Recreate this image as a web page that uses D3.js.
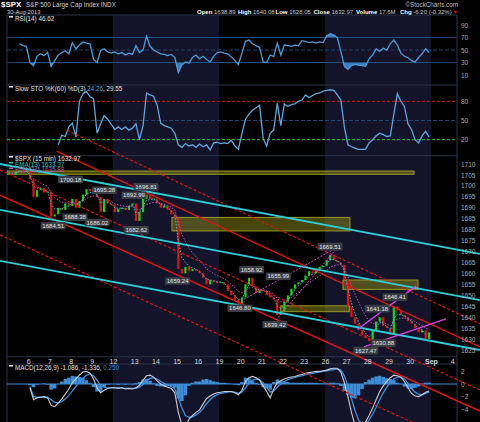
<!DOCTYPE html>
<html>
<head>
<meta charset="utf-8">
<script src="https://cdn.jsdelivr.net/npm/d3@7"></script>
<style>
  body { margin: 0; background: #000; }
  svg { display: block; font-family: "Liberation Sans", Arial, sans-serif; }
</style>
</head>
<body>
<div id="chart"></div>
<script>
var width = 480, height = 422,
    left = 7, right = 457;

// panel edges
var rsiTop = 15, rsiBot = 85, stoBot = 155.7, pxBot = 356.7, macdTop = 364;

// 15 min bars thinned to 6 samples a day
var perDay = 6;
var days = ['5', '6', '7', '8', '9', '12', '13', '14', '15', '16', '19', '20', '21', '22', '23', '26', '27', '28', '29', '30', 'Sep', '4'];
var shadedWeeks = [[5, 10], [15, 20]];

var closes = [
  1706, 1705, 1706.5, 1707, 1706.5, 1707,
  1703, 1695, 1698, 1699, 1697, 1697.4,
  1686, 1687, 1690, 1689, 1692, 1690.9,
  1694, 1690, 1693, 1696, 1698.5, 1697.5,
  1697, 1695, 1688, 1694, 1692, 1691.4,
  1688, 1689.5, 1690, 1689, 1691, 1692,
  1684, 1688, 1694, 1696, 1694, 1694.2,
  1692, 1690, 1691, 1689, 1687, 1685.4,
  1662, 1660, 1663, 1661, 1662, 1661.3,
  1660, 1658, 1655, 1657, 1656, 1655.8,
  1656, 1655, 1652, 1650, 1648, 1646.1,
  1649, 1655, 1658, 1654, 1651, 1652.4,
  1652, 1650, 1649, 1648, 1641, 1642.8,
  1647, 1650, 1653, 1655, 1656, 1657,
  1659, 1661, 1660, 1662, 1663, 1663.5,
  1666, 1668.5, 1666, 1665, 1664, 1657,
  1645, 1640, 1637, 1634, 1632, 1630.5,
  1629, 1634, 1638, 1640, 1636, 1635,
  1632, 1645, 1643, 1641, 1640, 1638.2,
  1637, 1635, 1633, 1634, 1630, 1633
];

var rsi = [null, null, null, 60, 57, 56, 30, 25, 40, 44,
  41, 46, 24, 33, 42, 46, 49, 44, 62, 52,
  58, 63, 61, 60, 35, 30, 49, 52, 47, 45,
  47, 44, 46, 42, 45, 43, 57, 46, 50, 72,
  56, 50, 47, 44, 43, 41, 43, 38, 14, 26,
  31, 29, 38, 42, 36, 40, 35, 31, 40, 46,
  47, 45, 44, 39, 33, 27, 45, 64, 66, 60,
  57, 54, 31, 30, 42, 40, 61, 42, 58, 57,
  56, 58, 57, 65, 64, 62, 63, 61, 63, 62,
  73, 76, 74, 70, 48, 24, 19, 25, 27, 26,
  25, 24, 36, 42, 52, 48, 53, 50, 60, 66,
  58, 45, 40, 38, 33, 31, 38, 44, 52, 46];

var stoK = [null, null, null, null, null, null, null, null, null, null,
  null, null, null, null, 12, 27, 25, 40, 46, 24,
  80, 92, 95, 87, 84, 30, 45, 58, 52, 44,
  36, 40, 36, 40, 35, 38, 45, 20, 42, 93,
  90, 88, 74, 46, 42, 40, 38, 30, 12, 8,
  14, 10, 12, 8, 13, 9, 12, 4, 15, 16,
  14, 15, 14, 19, 10, 5, 30, 52, 60, 66,
  70, 74, 22, 10, 30, 35, 77, 42, 76, 72,
  75, 76, 80, 82, 90, 86, 89, 92, 93, 96,
  97, 98, 97, 90, 82, 40, 12, 9, 7, 5,
  5, 5, 15, 20, 26, 30, 28, 25, 26, 60,
  92, 80, 72, 45, 36, 20, 15, 26, 33, 24];

var macd = [null, null, null, null, null, null, -0.6, -2.5, -2.2, -2.1,
  -2.0, -2.2, -3.4, -3.6, -3.0, -2.4, -1.6, -0.8, 0.2, 0.8,
  1.4, 1.9, 2.0, 1.7, 0.8, -0.6, -1.4, -1.0, -0.7, -0.6,
  -0.6, -0.7, -0.6, -0.8, -0.7, -0.8, -0.6, -0.2, 0.6, 1.3,
  1.4, 1.1, 0.5, 0.0, -0.3, -0.5, -0.7, -1.4, -4.5, -6.5,
  -6.8, -5.6, -5.0, -4.5, -4.1, -3.2, -2.3, -1.9, -1.6, -1.4,
  -1.3, -1.2, -1.2, -1.2, -1.4, -1.7, -1.0, 0.4, 1.0, 1.2,
  1.0, 0.6, -0.3, -1.2, -2.2, -0.8, 0.2, 0.5, 0.8, 1.0,
  1.1, 1.2, 1.4, 1.5, 1.7, 1.8, 1.9, 2.0, 2.0, 2.1,
  2.2, 2.4, 2.5, 2.5, 1.9, 0.2, -2.0, -4.5, -6.5, -7.5,
  -7.2, -6.0, -5.0, -3.8, -2.5, -1.2, -0.3, 0.4, 1.0, 1.4,
  1.3, 1.1, 0.4, -0.6, -1.5, -1.9, -2.0, -1.7, -1.3, -1.1];

var signal = [null, null, null, null, null, null, -0.4, -2.0, -2.1, -2.1,
  -2.1, -2.1, -2.5, -2.9, -3.0, -2.8, -2.4, -1.8, -1.1, -0.4,
  0.3, 0.9, 1.4, 1.6, 1.3, 0.6, -0.2, -0.5, -0.6, -0.6,
  -0.6, -0.6, -0.6, -0.7, -0.7, -0.7, -0.7, -0.5, -0.1, 0.5,
  0.9, 1.0, 0.8, 0.4, 0.1, -0.2, -0.4, -0.8, -2.2, -3.8,
  -5.0, -5.3, -5.2, -4.9, -4.5, -3.9, -3.1, -2.5, -2.0, -1.7,
  -1.5, -1.4, -1.3, -1.2, -1.3, -1.5, -1.3, -0.6, 0.1, 0.6,
  0.8, 0.7, 0.2, -0.5, -1.3, -1.1, -0.5, 0.0, 0.4, 0.7,
  0.9, 1.0, 1.2, 1.3, 1.5, 1.6, 1.7, 1.8, 1.9, 2.0,
  2.1, 2.2, 2.3, 2.4, 2.2, 1.3, -0.3, -2.3, -4.2, -5.7,
  -6.4, -6.3, -5.7, -4.8, -3.7, -2.5, -1.4, -0.5, 0.2, 0.8,
  1.1, 1.1, 0.8, 0.1, -0.7, -1.3, -1.6, -1.7, -1.5, -1.3];

// daily high / low tags: [day position, price, 'hi' or 'lo']
var priceTags = [
  [2.18, 1684.51, 'lo'], [3.0, 1700.18, 'hi'], [3.21, 1688.38, 'lo'],
  [4.26, 1686.02, 'lo'], [4.59, 1695.28, 'hi'], [5.99, 1692.99, 'hi'],
  [6.10, 1682.62, 'lo'], [6.56, 1696.81, 'hi'], [8.05, 1659.24, 'lo'],
  [10.99, 1646.80, 'lo'], [11.54, 1658.92, 'hi'], [12.80, 1655.99, 'hi'],
  [12.64, 1639.42, 'lo'], [15.24, 1669.51, 'hi'], [16.93, 1627.47, 'lo'],
  [17.75, 1630.88, 'lo'], [17.47, 1641.18, 'hi'], [18.30, 1646.41, 'hi']
];

// drawn annotations: [day0, price0, day1, price1]
var cyanLines = [[-0.33, 1710.0, 22.31, 1668.9], [-0.33, 1689.0, 22.31, 1647.8], [-0.33, 1665.7, 22.31, 1625.0]];
var redSolid = [[2.34, 1715.9, 22.31, 1626.4], [-0.33, 1695.8, 22.31, 1597.1]];
var redDashed = [[2.82, 1725.5, 22.31, 1636.9], [-0.33, 1707.3, 22.31, 1606.7], [-0.33, 1677.6, 22.31, 1577.9]];
var magentaSolid = [[16.56, 1634.6, 19.29, 1654.2], [16.84, 1626.4, 20.71, 1639.2]];
var magentaDashed = [[11.04, 1647.4, 15.52, 1671.6], [12.69, 1638.7, 15.57, 1671.6]];
// zones: [day0, day1, priceTop, priceBottom]
var zones = [[0, 19.2, 1706.8, 1705.3], [7.78, 16.18, 1685.6, 1679.4], [15.85, 19.39, 1657.0, 1652.7], [12.91, 16.15, 1645.2, 1642.5]];

var rsiTicks = [10, 30, 50, 70, 90],
    stoTicks = [20, 50, 80],
    priceTicks = d3.range(1625, 1711, 5),
    macdTicks = [-4, -2, 0, 2];

//scales
var x = d3.scaleLinear().domain([0, 21.23]).range([left, right]);
var yRsi = d3.scaleLinear().domain([0, 100]).range([81.3, 18.8]);
var ySto = d3.scaleLinear().domain([0, 100]).range([152.5, 88.5]);
var yPx = d3.scaleLinear().domain([1625, 1710]).range([350, 164]);
var yMacd = d3.scaleLinear().domain([-4, 2]).range([409.2, 371.4]);

function tx(i) { return x((i + 0.5) / perDay); }
var step = tx(1) - tx(0);

function ema(vals, n) {
  var k = 2 / (n + 1), out = [], prev;
  vals.forEach(function(v, i) {
    prev = i ? prev + k * (v - prev) : v;
    out.push(prev);
  });
  return out;
}
// 13 and 34 bars of 15 min, in 65 min samples
var ema13 = ema(closes, 3), ema34 = ema(closes, 8);

var svg = d3.select("#chart").append("svg")
    .attr("width", width)
    .attr("height", height);

svg.append("rect").attr("width", width).attr("height", height).attr("fill", "#000");

var defs = svg.append("defs");
function clip(id, x0, y0, w, h) {
  defs.append("clipPath").attr("id", id).append("rect")
    .attr("x", x0).attr("y", y0).attr("width", w).attr("height", h);
  return "url(#" + id + ")";
}
var clipRsi = clip("c-rsi", left, rsiTop, right - left, rsiBot - rsiTop),
    clipSto = clip("c-sto", left, rsiBot, right - left, stoBot - rsiBot),
    clipPx = clip("c-px", left, stoBot, right - left, pxBot - stoBot),
    clipMacd = clip("c-macd", left, macdTop, right - left, height - macdTop),
    clipOver = clip("c-over", 0, rsiBot, width, height - rsiBot),
    clipLo = clip("c-lo", left, yRsi(30), right - left, rsiBot - yRsi(30)),
    clipHi = clip("c-hi", left, rsiTop, right - left, yRsi(70) - rsiTop);

// week shading
svg.selectAll(".week").data(shadedWeeks).enter().append("rect")
    .attr("x", function(d) { return x(d[0]); })
    .attr("width", function(d) { return x(d[1]) - x(d[0]); })
    .attr("y", rsiTop)
    .attr("height", height - rsiTop)
    .attr("fill", "#13132a");

// panel frames
var frame = "#2b3446";
[rsiTop, rsiBot, stoBot, pxBot, macdTop].forEach(function(yy) {
  svg.append("line").attr("x1", left).attr("x2", right).attr("y1", yy).attr("y2", yy)
    .attr("stroke", frame).attr("stroke-width", 1);
});
[left, right].forEach(function(xx) {
  svg.append("line").attr("x1", xx).attr("x2", xx).attr("y1", rsiTop).attr("y2", height)
    .attr("stroke", frame).attr("stroke-width", 1);
});

function hline(yy, color, dash) {
  svg.append("line").attr("x1", left).attr("x2", right).attr("y1", yy).attr("y2", yy)
    .attr("stroke", color).attr("stroke-width", 1)
    .attr("stroke-dasharray", dash || null);
}

// ---- RSI
hline(yRsi(70), "#23456c");
hline(yRsi(30), "#23456c");
hline(yRsi(50), "#23456c", "4,2");

var rsiLine = d3.line().defined(function(d) { return d != null; })
    .x(function(d, i) { return tx(i); }).y(function(d) { return yRsi(d); });
var rsiArea30 = d3.area().defined(function(d) { return d != null; })
    .x(function(d, i) { return tx(i); }).y0(yRsi(30)).y1(function(d) { return yRsi(d); });
var rsiArea70 = d3.area().defined(function(d) { return d != null; })
    .x(function(d, i) { return tx(i); }).y0(yRsi(70)).y1(function(d) { return yRsi(d); });

svg.append("path").datum(rsi).attr("d", rsiArea30).attr("fill", "#3b7cc0").attr("clip-path", clipLo);
svg.append("path").datum(rsi).attr("d", rsiArea70).attr("fill", "#3b7cc0").attr("clip-path", clipHi);
svg.append("path").datum(rsi).attr("d", rsiLine)
    .attr("fill", "none").attr("stroke", "#4f9ad8").attr("stroke-width", 1.3)
    .attr("clip-path", clipRsi);

// ---- slow stochastics
hline(ySto(80), "#d01818", "3,2");
hline(ySto(50), "#23456c", "4,2");
hline(ySto(20), "#22cc22", "3,2");

var stoLine = d3.line().defined(function(d) { return d != null; })
    .x(function(d, i) { return tx(i); }).y(function(d) { return ySto(d); });
svg.append("path").datum(stoK).attr("d", stoLine)
    .attr("fill", "none").attr("stroke", "#62a6dc").attr("stroke-width", 1.3)
    .attr("clip-path", clipSto);

// ---- price
var gPx = svg.append("g").attr("clip-path", clipPx);

gPx.selectAll(".zone").data(zones).enter().append("rect")
    .attr("x", function(d) { return x(d[0]); })
    .attr("width", function(d) { return x(d[1]) - x(d[0]); })
    .attr("y", function(d) { return yPx(d[2]); })
    .attr("height", function(d) { return yPx(d[3]) - yPx(d[2]); })
    .attr("fill", "rgba(140,140,20,0.5)")
    .attr("stroke", "rgba(170,170,40,0.85)")
    .attr("stroke-width", 1);

gPx.selectAll(".candle").data(closes).enter().append("rect")
    .attr("x", function(d, i) { return tx(i) - 1.1; })
    .attr("width", 2.2)
    .attr("y", function(d, i) {
      var o = i ? closes[i - 1] : d;
      return yPx(Math.max(o, d));
    })
    .attr("height", function(d, i) {
      var o = i ? closes[i - 1] : d;
      return Math.max(1, Math.abs(yPx(o) - yPx(d)));
    })
    .attr("fill", function(d, i) {
      var o = i ? closes[i - 1] : d;
      return d >= o ? "#19d219" : "#e81010";
    });

var pxLine = d3.line().x(function(d, i) { return tx(i); }).y(function(d) { return yPx(d); });
gPx.append("path").datum(ema13).attr("d", pxLine)
    .attr("fill", "none").attr("stroke", "#33c4c4").attr("stroke-width", 1)
    .attr("stroke-dasharray", "1.5,1.5");
gPx.append("path").datum(ema34).attr("d", pxLine)
    .attr("fill", "none").attr("stroke", "#b45ab4").attr("stroke-width", 1)
    .attr("stroke-dasharray", "1.5,1.5");

// ---- MACD
var gMacd = svg.append("g").attr("clip-path", clipMacd);
var hist = macd.map(function(d, i) { return d == null ? null : d - signal[i]; });

gMacd.append("line").attr("x1", left).attr("x2", right)
    .attr("y1", yMacd(0)).attr("y2", yMacd(0))
    .attr("stroke", "#3c8fd8").attr("stroke-width", 1);

gMacd.selectAll(".hist").data(hist).enter().append("rect")
    .attr("x", function(d, i) { return tx(i) - step / 2; })
    .attr("width", step)
    .attr("y", function(d) { return yMacd(Math.max(0, d || 0)); })
    .attr("height", function(d) { return d == null ? 0 : Math.abs(yMacd(d) - yMacd(0)); })
    .attr("fill", "#3f8dd4");

var macdLine = d3.line().defined(function(d) { return d != null; })
    .x(function(d, i) { return tx(i); }).y(function(d) { return yMacd(d); });
gMacd.append("path").datum(signal).attr("d", macdLine)
    .attr("fill", "none").attr("stroke", "#3c8fd8").attr("stroke-width", 1.3);
gMacd.append("path").datum(macd).attr("d", macdLine)
    .attr("fill", "none").attr("stroke", "#c9ccd6").attr("stroke-width", 1.1);

// ---- drawn trendlines (not clipped to the price panel)
var gOver = svg.append("g").attr("clip-path", clipOver);
function drawLines(list, color, w, dash) {
  gOver.selectAll(null).data(list).enter().append("line")
    .attr("x1", function(d) { return x(d[0]); })
    .attr("y1", function(d) { return yPx(d[1]); })
    .attr("x2", function(d) { return x(d[2]); })
    .attr("y2", function(d) { return yPx(d[3]); })
    .attr("stroke", color)
    .attr("stroke-width", w)
    .attr("stroke-dasharray", dash || null);
}
drawLines(redDashed, "#e01414", 1.2, "3,2");
drawLines(redSolid, "#e01414", 1.5);
drawLines(cyanLines, "#2ccfd8", 1.8);
drawLines(magentaDashed, "#d040d0", 1, "2,1.5");
drawLines(magentaSolid, "#e040e0", 1.4);

// high / low tags
var tags = svg.selectAll(".tag").data(priceTags).enter().append("g")
    .attr("transform", function(d) {
      var yy = yPx(d[1]) + (d[2] == 'hi' ? -6 : 6);
      return "translate(" + x(d[0]) + "," + yy + ")";
    });
tags.append("rect")
    .attr("x", -12.5).attr("y", -3.8).attr("width", 25).attr("height", 7.6)
    .attr("rx", 1).attr("fill", "#3a3d44");
tags.append("text")
    .attr("text-anchor", "middle").attr("dy", "0.35em")
    .attr("font-size", "6px").attr("fill", "#e6e6e6")
    .text(function(d) { return d[1].toFixed(2); });

// ---- axes
function rightAxis(scale, ticks) {
  var g = svg.append("g")
      .attr("transform", "translate(" + right + ",0)")
      .call(d3.axisRight(scale).tickValues(ticks).tickFormat(d3.format("d")).tickSize(0).tickPadding(4));
  g.select(".domain").remove();
  g.selectAll("text").attr("fill", "#a8a8a8").attr("font-size", "6.5px")
    .attr("font-family", "Liberation Sans, Arial, sans-serif");
}
rightAxis(yRsi, rsiTicks);
rightAxis(ySto, stoTicks);
rightAxis(yPx, priceTicks);
rightAxis(yMacd, macdTicks);

var xAxis = svg.append("g")
    .attr("transform", "translate(0," + pxBot + ")")
    .call(d3.axisBottom(x).tickValues(d3.range(1, days.length))
      .tickFormat(function(d) { return days[d]; }).tickSize(0).tickPadding(2));
xAxis.select(".domain").remove();
xAxis.selectAll("text").attr("fill", "#d8d8d8").attr("font-size", "7px")
    .attr("font-family", "Liberation Sans, Arial, sans-serif")
    .attr("font-weight", function(d) { return days[d] == 'Sep' ? "bold" : null; });

// ---- legends
function legend(yy, parts) {
  svg.append("rect").attr("x", 9).attr("y", yy - 2.5).attr("width", 4).attr("height", 1.6).attr("fill", parts[0][1]);
  var t = svg.append("text").attr("x", 15).attr("y", yy).attr("dy", "0.35em").attr("font-size", "6.3px");
  parts.forEach(function(p) { t.append("tspan").attr("fill", p[1]).text(p[0]); });
}
legend(18.5, [["RSI(14) ", "#e0e0e0"], ["46.62", "#e0e0e0"]]);
legend(88.5, [["Slow STO %K(60) %D(3) ", "#e0e0e0"], ["24.26", "#62a6dc"], [", 29.55", "#e0e0e0"]]);
legend(158.5, [["$SPX (15 min) 1632.97", "#e0e0e0"]]);
legend(164.3, [["EMA(13) 1633.37", "#33c4c4"]]);
legend(170, [["EMA(34) 1635.88", "#b45ab4"]]);
legend(367.5, [["MACD(12,26,9) ", "#e0e0e0"], ["-1.086, -1.336, ", "#e0e0e0"], ["0.250", "#3c8fd8"]]);

// ---- header
svg.append("text").attr("x", 1).attr("y", 7).attr("font-size", "8px").attr("font-weight", "bold")
    .attr("fill", "#fff").text("$SPX");
svg.append("text").attr("x", 26).attr("y", 7).attr("font-size", "6.3px").attr("fill", "#cfcfcf")
    .text("S&P 500 Large Cap Index INDX");
svg.append("text").attr("x", 7).attr("y", 14.3).attr("font-size", "5.8px").attr("fill", "#cfcfcf")
    .text("30-Aug-2013");
svg.append("text").attr("x", 458).attr("y", 6.5).attr("text-anchor", "end").attr("font-size", "6.3px")
    .attr("fill", "#bdbdbd").text("\u00a9StockCharts.com");

var quote = [["Open", "1638.89", 197], ["High", "1640.08", 238], ["Low", "1628.05", 275.5],
             ["Close", "1632.97", 313.5], ["Volume", "17.6M", 356], ["Chg", "-6.20 (-0.32%)", 400]];
quote.forEach(function(q) {
  var t = svg.append("text").attr("x", q[2]).attr("y", 13.5).attr("font-size", "6px");
  t.append("tspan").attr("font-weight", "bold").attr("fill", "#fff").text(q[0] + " ");
  t.append("tspan").attr("fill", "#c8c8c8").text(q[1]);
});
svg.append("text").attr("x", 452.5).attr("y", 13.5).attr("font-size", "5.5px").attr("fill", "#e01010").text("\u25bc");
</script>
</body>
</html>
